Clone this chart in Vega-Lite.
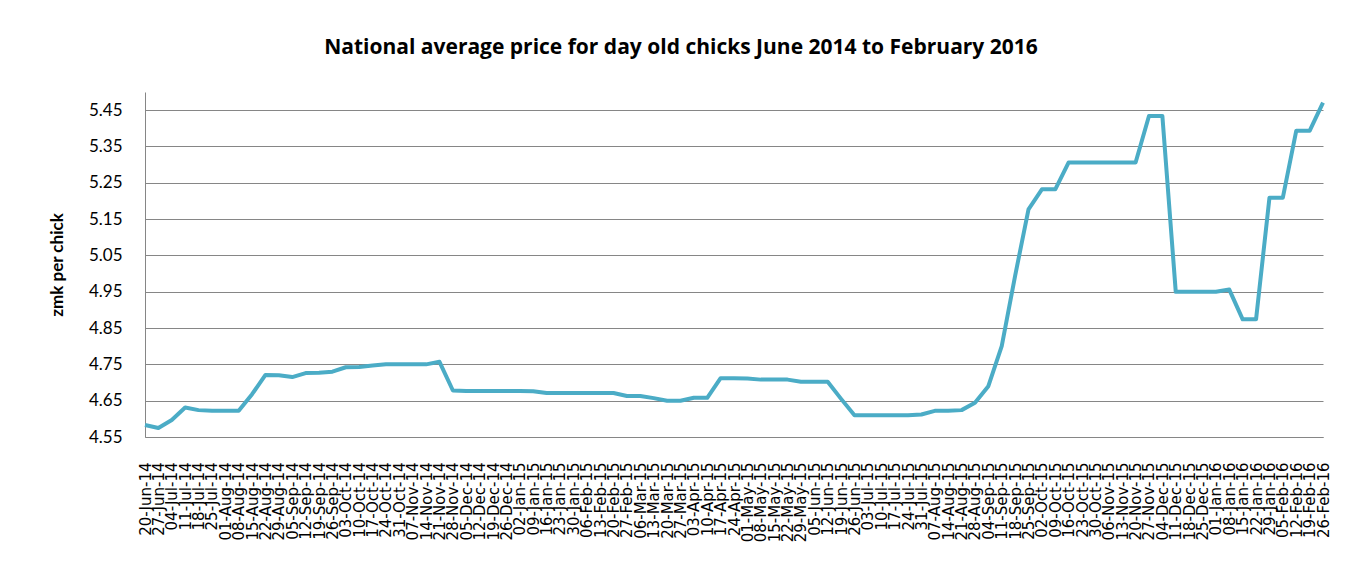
{
  "$schema": "https://vega.github.io/schema/vega-lite/v6.json",
  "autosize": {"type": "none"},
  "padding": {"left": 145, "top": 92, "right": 29, "bottom": 142},
  "width": 1178,
  "height": 345,
  "background": "white",
  "title": {
    "text": "National average price for day old chicks June 2014 to February 2016",
    "font": "Open Sans",
    "fontSize": 21,
    "fontWeight": "bold",
    "color": "#000000",
    "anchor": "middle",
    "dx": -53,
    "offset": 34
  },
  "config": {
    "view": {"stroke": null},
    "axis": {"labelFont": "Lato", "titleFont": "Lato", "labelColor": "#000000", "titleColor": "#000000"}
  },
  "data": {
    "values": [
      {"week": "20-Jun-14", "price": 4.583},
      {"week": "27-Jun-14", "price": 4.575},
      {"week": "04-Jul-14", "price": 4.597},
      {"week": "11-Jul-14", "price": 4.631},
      {"week": "18-Jul-14", "price": 4.624},
      {"week": "25-Jul-14", "price": 4.622},
      {"week": "01-Aug-14", "price": 4.622},
      {"week": "08-Aug-14", "price": 4.622},
      {"week": "15-Aug-14", "price": 4.668},
      {"week": "22-Aug-14", "price": 4.721},
      {"week": "29-Aug-14", "price": 4.720},
      {"week": "05-Sep-14", "price": 4.715},
      {"week": "12-Sep-14", "price": 4.726},
      {"week": "19-Sep-14", "price": 4.727},
      {"week": "26-Sep-14", "price": 4.730},
      {"week": "03-Oct-14", "price": 4.742},
      {"week": "10-Oct-14", "price": 4.743},
      {"week": "17-Oct-14", "price": 4.747},
      {"week": "24-Oct-14", "price": 4.750},
      {"week": "31-Oct-14", "price": 4.750},
      {"week": "07-Nov-14", "price": 4.750},
      {"week": "14-Nov-14", "price": 4.750},
      {"week": "21-Nov-14", "price": 4.757},
      {"week": "28-Nov-14", "price": 4.678},
      {"week": "05-Dec-14", "price": 4.677},
      {"week": "12-Dec-14", "price": 4.677},
      {"week": "19-Dec-14", "price": 4.677},
      {"week": "26-Dec-14", "price": 4.677},
      {"week": "02-Jan-15", "price": 4.677},
      {"week": "09-Jan-15", "price": 4.676},
      {"week": "16-Jan-15", "price": 4.671},
      {"week": "23-Jan-15", "price": 4.671},
      {"week": "30-Jan-15", "price": 4.671},
      {"week": "06-Feb-15", "price": 4.671},
      {"week": "13-Feb-15", "price": 4.671},
      {"week": "20-Feb-15", "price": 4.671},
      {"week": "27-Feb-15", "price": 4.663},
      {"week": "06-Mar-15", "price": 4.663},
      {"week": "13-Mar-15", "price": 4.657},
      {"week": "20-Mar-15", "price": 4.650},
      {"week": "27-Mar-15", "price": 4.650},
      {"week": "03-Apr-15", "price": 4.658},
      {"week": "10-Apr-15", "price": 4.658},
      {"week": "17-Apr-15", "price": 4.712},
      {"week": "24-Apr-15", "price": 4.712},
      {"week": "01-May-15", "price": 4.711},
      {"week": "08-May-15", "price": 4.708},
      {"week": "15-May-15", "price": 4.708},
      {"week": "22-May-15", "price": 4.708},
      {"week": "29-May-15", "price": 4.702},
      {"week": "05-Jun-15", "price": 4.702},
      {"week": "12-Jun-15", "price": 4.702},
      {"week": "19-Jun-15", "price": 4.655},
      {"week": "26-Jun-15", "price": 4.610},
      {"week": "03-Jul-15", "price": 4.610},
      {"week": "10-Jul-15", "price": 4.610},
      {"week": "17-Jul-15", "price": 4.610},
      {"week": "24-Jul-15", "price": 4.610},
      {"week": "31-Jul-15", "price": 4.612},
      {"week": "07-Aug-15", "price": 4.622},
      {"week": "14-Aug-15", "price": 4.622},
      {"week": "21-Aug-15", "price": 4.624},
      {"week": "28-Aug-15", "price": 4.644},
      {"week": "04-Sep-15", "price": 4.690},
      {"week": "11-Sep-15", "price": 4.800},
      {"week": "18-Sep-15", "price": 4.994},
      {"week": "25-Sep-15", "price": 5.177},
      {"week": "02-Oct-15", "price": 5.232},
      {"week": "09-Oct-15", "price": 5.232},
      {"week": "16-Oct-15", "price": 5.306},
      {"week": "23-Oct-15", "price": 5.306},
      {"week": "30-Oct-15", "price": 5.306},
      {"week": "06-Nov-15", "price": 5.306},
      {"week": "13-Nov-15", "price": 5.306},
      {"week": "20-Nov-15", "price": 5.306},
      {"week": "27-Nov-15", "price": 5.434},
      {"week": "04-Dec-15", "price": 5.434},
      {"week": "11-Dec-15", "price": 4.950},
      {"week": "18-Dec-15", "price": 4.950},
      {"week": "25-Dec-15", "price": 4.950},
      {"week": "01-Jan-16", "price": 4.950},
      {"week": "08-Jan-16", "price": 4.956},
      {"week": "15-Jan-16", "price": 4.874},
      {"week": "22-Jan-16", "price": 4.874},
      {"week": "29-Jan-16", "price": 5.209},
      {"week": "05-Feb-16", "price": 5.209},
      {"week": "12-Feb-16", "price": 5.393},
      {"week": "19-Feb-16", "price": 5.393},
      {"week": "26-Feb-16", "price": 5.471}
    ]
  },
  "mark": {"type": "line", "color": "#4BACC6", "strokeWidth": 4, "strokeJoin": "round", "strokeCap": "butt", "clip": false},
  "encoding": {
    "x": {
      "field": "week",
      "type": "ordinal",
      "sort": null,
      "scale": {"type": "point", "padding": 0},
      "axis": {
        "title": null,
        "labelAngle": -90,
        "labelFontSize": 15,
        "labelFont": "DejaVu Sans",
        "labelOverlap": false,
        "labelBound": false,
        "labelPadding": 25,
        "ticks": false,
        "domainColor": "#868686",
        "domainWidth": 1,
        "grid": false
      }
    },
    "y": {
      "field": "price",
      "type": "quantitative",
      "scale": {"domain": [4.55, 5.5], "nice": false, "zero": false},
      "axis": {
        "title": "zmk per chick",
        "titleFontSize": 17,
        "titleFontWeight": "bold",
        "titlePadding": 22,
        "values": [4.55, 4.65, 4.75, 4.85, 4.95, 5.05, 5.15, 5.25, 5.35, 5.45],
        "format": ".2f",
        "labelFontSize": 17,
        "labelPadding": 23,
        "ticks": false,
        "domainColor": "#868686",
        "gridColor": "#868686",
        "gridWidth": 1,
        "grid": true
      }
    }
  }
}
